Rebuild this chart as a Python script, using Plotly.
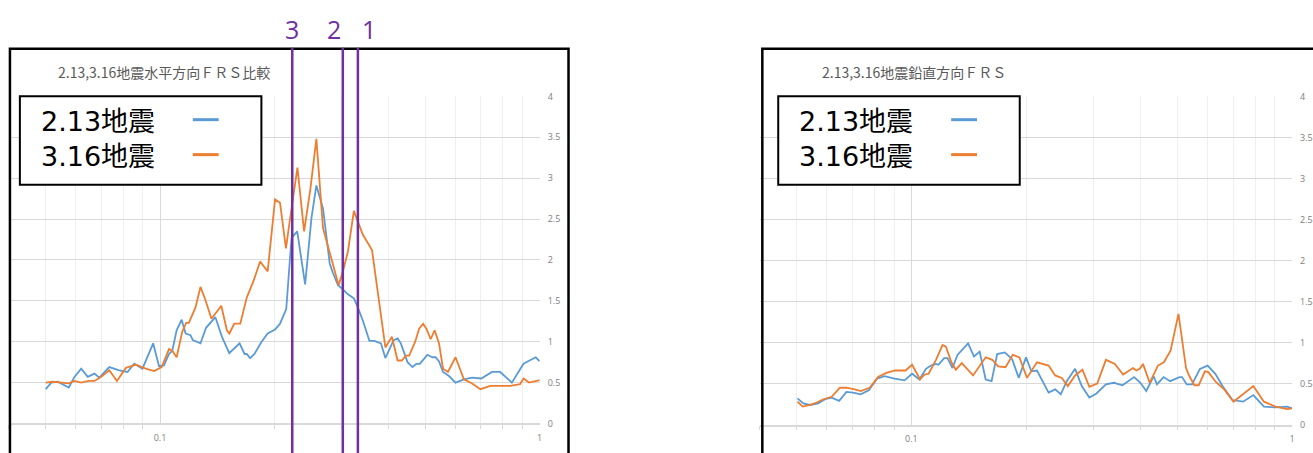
import math
import plotly.graph_objects as go

W, H = 1313, 453

# ---- horizontal floor response spectra (period [s], response) ----
h213_period = [0.0500, 0.0517, 0.0538, 0.0555, 0.0575, 0.0595, 0.0620, 0.0645, 0.0672, 0.0692,
               0.0735, 0.0781, 0.0821, 0.0855, 0.0899, 0.0959, 0.0994, 0.1024, 0.1056, 0.1077,
               0.1106, 0.1140, 0.1168, 0.1203, 0.1220, 0.1278, 0.1322, 0.1399, 0.1456, 0.1522,
               0.1620, 0.1670, 0.1692, 0.1727, 0.1773, 0.1846, 0.1921, 0.2009, 0.2070, 0.2150,
               0.2220, 0.2298, 0.2411, 0.2505, 0.2581, 0.2687, 0.2798, 0.2854, 0.2942, 0.3032,
               0.3125, 0.3240, 0.3319, 0.3420, 0.3561, 0.3670, 0.3819, 0.3922, 0.4017, 0.4123,
               0.4224, 0.4308, 0.4486, 0.4623, 0.4736, 0.4831, 0.5061, 0.5216, 0.5321, 0.5431,
               0.5564, 0.5768, 0.6003, 0.6315, 0.6637, 0.7019, 0.7485, 0.7870, 0.8447, 0.9065,
               0.9761, 1.0000]
h213_accel = [0.42, 0.50, 0.51, 0.48, 0.44, 0.57, 0.67, 0.57, 0.61, 0.56,
              0.69, 0.65, 0.63, 0.73, 0.67, 0.98, 0.70, 0.71, 0.85, 0.89,
              1.14, 1.27, 1.10, 1.08, 1.02, 0.98, 1.17, 1.30, 1.06, 0.86,
              0.98, 0.85, 0.85, 0.80, 0.85, 0.99, 1.10, 1.15, 1.22, 1.40,
              2.27, 2.35, 1.70, 2.51, 2.91, 2.63, 1.96, 1.84, 1.69, 1.64,
              1.58, 1.53, 1.42, 1.26, 1.01, 1.01, 0.98, 0.80, 0.90, 1.02,
              1.04, 0.98, 0.75, 0.69, 0.73, 0.73, 0.84, 0.81, 0.81, 0.76,
              0.63, 0.58, 0.50, 0.54, 0.56, 0.55, 0.63, 0.63, 0.50, 0.73,
              0.81, 0.76]

h316_period = [0.0500, 0.0522, 0.0550, 0.0575, 0.0595, 0.0620, 0.0649, 0.0672, 0.0700, 0.0735,
               0.0770, 0.0813, 0.0864, 0.0917, 0.0965, 0.1010, 0.1056, 0.1077, 0.1106, 0.1144,
               0.1172, 0.1191, 0.1240, 0.1278, 0.1317, 0.1366, 0.1450, 0.1500, 0.1522, 0.1569,
               0.1627, 0.1692, 0.1762, 0.1835, 0.1921, 0.2009, 0.2070, 0.2146, 0.2220, 0.2301,
               0.2396, 0.2489, 0.2581, 0.2687, 0.2825, 0.2954, 0.3032, 0.3125, 0.3240, 0.3420,
               0.3617, 0.3922, 0.4080, 0.4224, 0.4334, 0.4440, 0.4532, 0.4699, 0.4814, 0.4931,
               0.5030, 0.5162, 0.5288, 0.5431, 0.5564, 0.5733, 0.6003, 0.6315, 0.6637, 0.6977,
               0.7410, 0.7870, 0.8362, 0.8879, 0.9065, 0.9376, 1.0000]
h316_accel = [0.50, 0.51, 0.50, 0.49, 0.52, 0.50, 0.52, 0.52, 0.57, 0.65,
              0.52, 0.68, 0.72, 0.67, 0.64, 0.69, 0.91, 0.89, 0.81, 1.12,
              1.23, 1.23, 1.42, 1.67, 1.51, 1.28, 1.44, 1.14, 1.10, 1.22,
              1.22, 1.54, 1.74, 1.98, 1.86, 2.74, 2.70, 2.14, 2.63, 3.13,
              2.35, 2.87, 3.48, 2.39, 2.02, 1.69, 1.86, 2.10, 2.60, 2.31,
              2.12, 0.93, 1.06, 0.77, 0.77, 0.83, 0.83, 1.00, 1.16, 1.22,
              1.16, 1.03, 1.14, 0.98, 0.67, 0.63, 0.81, 0.54, 0.49, 0.42,
              0.46, 0.46, 0.46, 0.48, 0.55, 0.50, 0.53]

# ---- vertical floor response spectra ----
v213_period = [0.0502, 0.0520, 0.0542, 0.0569, 0.0593, 0.0617, 0.0646, 0.0675, 0.0703, 0.0735,
               0.0773, 0.0812, 0.0850, 0.0903, 0.0959, 0.1004, 0.1049, 0.1092, 0.1126, 0.1160,
               0.1178, 0.1219, 0.1244, 0.1282, 0.1321, 0.1409, 0.1460, 0.1511, 0.1567, 0.1624,
               0.1680, 0.1759, 0.1838, 0.1914, 0.2000, 0.2066, 0.2137, 0.2293, 0.2386, 0.2468,
               0.2559, 0.2692, 0.2802, 0.2934, 0.3064, 0.3243, 0.3403, 0.3584, 0.3846, 0.3994,
               0.4140, 0.4328, 0.4415, 0.4597, 0.4783, 0.5061, 0.5140, 0.5287, 0.5459, 0.5728,
               0.6000, 0.6285, 0.6565, 0.6971, 0.7434, 0.7910, 0.8436, 0.9045, 0.9703, 1.0000]
v213_accel = [0.32, 0.26, 0.24, 0.26, 0.31, 0.33, 0.29, 0.40, 0.39, 0.37,
              0.42, 0.56, 0.59, 0.56, 0.54, 0.62, 0.55, 0.68, 0.72, 0.74,
              0.73, 0.81, 0.81, 0.69, 0.85, 0.99, 0.83, 0.89, 0.55, 0.53,
              0.86, 0.88, 0.80, 0.57, 0.82, 0.65, 0.66, 0.39, 0.43, 0.37,
              0.53, 0.68, 0.47, 0.33, 0.38, 0.49, 0.51, 0.48, 0.58, 0.51,
              0.41, 0.59, 0.49, 0.58, 0.53, 0.58, 0.58, 0.49, 0.49, 0.68,
              0.72, 0.62, 0.47, 0.30, 0.28, 0.36, 0.22, 0.21, 0.22, 0.20]

v316_period = [0.0502, 0.0518, 0.0542, 0.0564, 0.0587, 0.0617, 0.0649, 0.0675, 0.0710, 0.0736,
               0.0777, 0.0817, 0.0859, 0.0908, 0.0965, 0.1004, 0.1054, 0.1081, 0.1110, 0.1160,
               0.1207, 0.1232, 0.1274, 0.1308, 0.1356, 0.1452, 0.1567, 0.1631, 0.1691, 0.1767,
               0.1846, 0.1922, 0.2012, 0.2137, 0.2293, 0.2386, 0.2483, 0.2575, 0.2692, 0.2813,
               0.2934, 0.3077, 0.3243, 0.3424, 0.3598, 0.3822, 0.3899, 0.3979, 0.4059, 0.4225,
               0.4442, 0.4605, 0.4795, 0.5030, 0.5265, 0.5374, 0.5538, 0.5683, 0.5902, 0.6025,
               0.6306, 0.6632, 0.7015, 0.7910, 0.8436, 0.9045, 0.9703, 1.0000]
v316_accel = [0.28, 0.22, 0.24, 0.27, 0.31, 0.34, 0.45, 0.45, 0.43, 0.41,
              0.45, 0.58, 0.63, 0.66, 0.66, 0.73, 0.55, 0.61, 0.62, 0.79,
              0.97, 0.95, 0.76, 0.67, 0.75, 0.60, 0.82, 0.79, 0.71, 0.70,
              0.85, 0.82, 0.57, 0.76, 0.72, 0.60, 0.57, 0.47, 0.60, 0.67,
              0.46, 0.50, 0.79, 0.74, 0.61, 0.69, 0.66, 0.68, 0.74, 0.51,
              0.72, 0.76, 0.90, 1.35, 0.69, 0.59, 0.48, 0.48, 0.65, 0.64,
              0.52, 0.43, 0.28, 0.47, 0.28, 0.22, 0.19, 0.20]

series_names = ["2.13地震", "3.16地震"]
panel_titles = ["2.13,3.16地震水平方向ＦＲＳ比較", "2.13,3.16地震鉛直方向ＦＲＳ"]

# natural periods of interest marked on the horizontal spectrum
marker_periods = [0.223, 0.303, 0.332]
marker_labels = ["3", "2", "1"]
marker_label_shift = [0, -9, 11]

x_tick_vals = [0.1, 1]
x_tick_text = ["0.1", "1"]
x_minor_vals = [0.04, 0.05, 0.06, 0.07, 0.08, 0.09, 0.2, 0.3, 0.4, 0.5, 0.6, 0.7, 0.8, 0.9]
y_range = [0, 4]
y_step = 0.5

BLUE = "#5B9BD5"
ORANGE = "#ED7D31"
PURPLE = "#7030A0"
GRID = "#d9d9d9"
MINOR_GRID = "#efefef"
TICK_FONT = dict(family="Open Sans, Noto Sans CJK JP", size=9, color="#808080")
CJK = "Noto Sans CJK JP"
LEGEND_FONT = "DejaVu Sans, Noto Sans CJK JP"


def px(x):
    return x / W


def py(y):
    return 1 - y / H


fig = go.Figure()

panels = [
    ("x", "y", h213_period, h213_accel, h316_period, h316_accel),
    ("x2", "y2", v213_period, v213_accel, v316_period, v316_accel),
]
for xa, ya, p1, a1, p2, a2 in panels:
    fig.add_trace(go.Scatter(x=p1, y=a1, mode="lines", name=series_names[0],
                             line=dict(color=BLUE, width=1.8), xaxis=xa, yaxis=ya,
                             showlegend=False))
    fig.add_trace(go.Scatter(x=p2, y=a2, mode="lines", name=series_names[1],
                             line=dict(color=ORANGE, width=1.8), xaxis=xa, yaxis=ya,
                             showlegend=False))

xlog_range = [math.log10(0.04), 0]


def x_axis(domain, anchor):
    return dict(type="log", range=xlog_range, domain=domain, anchor=anchor,
                tickmode="array", tickvals=x_tick_vals, ticktext=x_tick_text,
                showgrid=True, gridcolor=GRID, gridwidth=1,
                showline=True, linecolor=GRID, linewidth=1.5,
                ticks="", ticklabelstandoff=5, tickfont=TICK_FONT, zeroline=False,
                minor=dict(tickmode="array", tickvals=x_minor_vals, showgrid=True,
                           gridcolor=MINOR_GRID, gridwidth=1, ticks="outside",
                           ticklen=4, tickcolor=GRID))


def y_axis(domain, anchor):
    return dict(range=y_range, dtick=y_step, tick0=0, domain=domain, anchor=anchor,
                side="right", showgrid=True, gridcolor=GRID, gridwidth=1,
                showline=False, zeroline=False, ticks="", ticklabelstandoff=7,
                tickfont=TICK_FONT)


fig.update_layout(
    width=W, height=H,
    margin=dict(l=0, r=0, t=0, b=0),
    paper_bgcolor="white", plot_bgcolor="white",
    xaxis=x_axis([px(9), px(543)], "y"),
    yaxis=y_axis([1 - 428.8 / H, py(92)], "x"),
    xaxis2=x_axis([px(764.6), px(1300)], "y2"),
    yaxis2=y_axis([1 - 430 / H, py(92)], "x2"),
)

shapes = []
annotations = []

# outer chart frames
shapes.append(dict(type="rect", xref="paper", yref="paper",
                   x0=px(10), x1=px(572), y0=py(470), y1=py(43),
                   line=dict(color="black", width=2.5), layer="above"))
shapes.append(dict(type="rect", xref="paper", yref="paper",
                   x0=px(767), x1=px(1340), y0=py(470), y1=py(43),
                   line=dict(color="black", width=2.5), layer="above"))

# chart titles
for title, cx in zip(panel_titles, [165.5, 920]):
    annotations.append(dict(text=title, xref="paper", yref="paper", x=px(cx), y=py(67),
                            xanchor="center", yanchor="middle", showarrow=False,
                            font=dict(family=CJK, size=14, color="#595959")))

# legend boxes: two-line label block plus coloured line samples
for bx0, bx1, tx, lx0, lx1 in [(20, 263, 39, 194, 220), (783, 1026, 802, 957, 983)]:
    shapes.append(dict(type="rect", xref="paper", yref="paper",
                       x0=px(bx0), x1=px(bx1), y0=py(183), y1=py(92),
                       line=dict(color="black", width=2), fillcolor="white", layer="above"))
    annotations.append(dict(text="<br>".join(series_names), xref="paper", yref="paper",
                            x=px(tx), y=py(136), xanchor="left", yanchor="middle",
                            align="left", showarrow=False,
                            font=dict(family=LEGEND_FONT, size=27, color="black")))
    for color, ly in [(BLUE, 116), (ORANGE, 152)]:
        shapes.append(dict(type="line", xref="paper", yref="paper",
                           x0=px(lx0), x1=px(lx1), y0=py(ly), y1=py(ly),
                           line=dict(color=color, width=3), layer="above"))

# natural-period markers (annotation x on a log axis is given as log10)
for per, lab, shift in zip(marker_periods, marker_labels, marker_label_shift):
    shapes.append(dict(type="line", xref="x", yref="paper", x0=per, x1=per,
                       y0=py(470), y1=py(42), line=dict(color=PURPLE, width=2.5),
                       layer="above"))
    annotations.append(dict(text=lab, xref="x", yref="paper", x=math.log10(per), y=py(23),
                            xanchor="center", yanchor="middle", xshift=shift,
                            showarrow=False,
                            font=dict(family="Open Sans", size=25, color=PURPLE)))

fig.update_layout(shapes=shapes, annotations=annotations)

fig.write_html("out.html")
